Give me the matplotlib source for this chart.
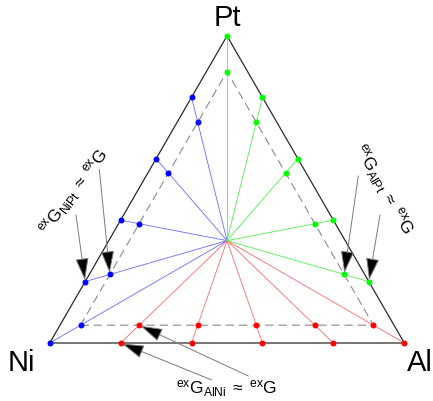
import matplotlib
matplotlib.use('Agg')
import matplotlib.pyplot as plt
import numpy as np
from matplotlib.patches import FancyArrowPatch

plt.rcParams['font.family'] = ['Liberation Sans', 'DejaVu Sans']
plt.rcParams['mathtext.fontset'] = 'custom'
plt.rcParams['mathtext.rm'] = 'Liberation Sans'
plt.rcParams['mathtext.it'] = 'Liberation Sans:italic'
plt.rcParams['mathtext.default'] = 'regular'
plt.rcParams['lines.scale_dashes'] = False

# ---- data ----
vertex_labels = ['Ni', 'Al', 'Pt']
# red series: Ni-Al edge, Al fraction (Pt = 0)
red_al = [0.2, 0.4, 0.6, 0.8, 1.0]
# blue series: Ni-Pt edge, Pt fraction (Al = 0)
blue_pt = [0.0, 0.2, 0.4, 0.6, 0.8]
# green series: Pt-Al edge, Al fraction (Ni = 0)
green_al = [0.0, 0.2, 0.4, 0.6, 0.8]
# inner (dashed) triangle: minimum fraction of each component
inner_min = 0.058
centre = (1/3, 1/3, 1/3)  # (Ni, Al, Pt)

# ---- helpers ----
def tern(ni, al, pt):
    s = ni + al + pt
    al, pt = al / s, pt / s
    return al + 0.5 * pt, np.sqrt(3) / 2 * pt

def shrink(comp):
    f = 1 - 3 * inner_min
    return tuple(c * f + inner_min for c in comp)

SCALE = 354.6
X0, Y0 = 49.7, 343.0
def px(x, y):
    return (x - X0) / SCALE, (Y0 - y) / SCALE

fig = plt.figure(figsize=(4.33, 4.01), dpi=100)
ax = fig.add_axes([0, 0, 1, 1])
ax.set_xlim(px(0, 0)[0], px(433, 0)[0])
ax.set_ylim(px(0, 401)[1], px(0, 0)[1])
ax.axis('off')

# outer triangle
corners = [(1, 0, 0), (0, 1, 0), (0, 0, 1), (1, 0, 0)]
xs, ys = zip(*[tern(*c) for c in corners])
ax.plot(xs, ys, color='#2a2a2a', lw=0.9, zorder=2)
# inner dashed triangle
xs, ys = zip(*[tern(*shrink(c)) for c in corners])
ax.plot(xs, ys, color='#8a8a8a', lw=0.8, dashes=(6, 3.5), zorder=2)

series = [
    ('#0000ff', [(1 - p, 0, p) for p in blue_pt]),
    ('#ff0000', [(1 - a, a, 0) for a in red_al]),
    ('#00ff00', [(0, a, 1 - a) for a in green_al]),
]
lc = {'#0000ff': '#6a6aff', '#ff0000': '#ff6a6a', '#00ff00': '#50f050'}
cx, cy = tern(*centre)
for col, comps in series:
    for comp in comps:
        ox, oy = tern(*comp)
        ix, iy = tern(*shrink(comp))
        ax.plot([cx, ox], [cy, oy], color=lc[col], lw=0.6, zorder=3)
        ax.plot([ox, ix], [oy, iy], 'o', color=col, ms=4.3, mew=0, zorder=6)

# vertex labels
ax.text(*px(227.5, 18), 'Pt', fontsize=21, ha='center', va='center')
ax.text(*px(21.5, 363), 'Ni', fontsize=21, ha='center', va='center')
ax.text(*px(407, 363), 'Al', fontsize=21, ha='left', va='center')

# annotations
def arrow(tail_px, target):
    a = FancyArrowPatch(px(*tail_px), target,
                        arrowstyle='-|>,head_length=1.4,head_width=0.42',
                        mutation_scale=10, shrinkA=0, shrinkB=1,
                        ec='#7a7a7a', fc='black', lw=0.7, zorder=5)
    ax.add_patch(a)

# bottom: Ni-Al
arrow((211.7, 380), tern(*(1 - red_al[0], red_al[0], 0)))
arrow((248.3, 376), tern(*shrink((1 - red_al[0], red_al[0], 0))))
ax.text(*px(226.5, 389), r'${}^{ex}G_{AlNi}\;\approx\;{}^{ex}G$', fontsize=12.5,
        ha='center', va='center')

# left: Ni-Pt
arrow((76, 215), tern(*(1 - blue_pt[1], 0, blue_pt[1])))
arrow((99.3, 169.3), tern(*shrink((1 - blue_pt[1], 0, blue_pt[1]))))
ax.text(*px(74, 192), r'${}^{ex}G_{NiPt}\;\approx\;{}^{ex}G$', fontsize=12.5,
        ha='center', va='center', rotation=53, rotation_mode='anchor')

# right: Al-Pt
arrow((380, 215), tern(*(0, green_al[4], 1 - green_al[4])))
arrow((358.3, 176), tern(*shrink((0, green_al[4], 1 - green_al[4]))))
ax.text(*px(383, 190), r'${}^{ex}G_{AlPt}\;\approx\;{}^{ex}G$', fontsize=12.5,
        ha='center', va='center', rotation=-60, rotation_mode='anchor')

fig.savefig('out.png', dpi=100, facecolor='white')
